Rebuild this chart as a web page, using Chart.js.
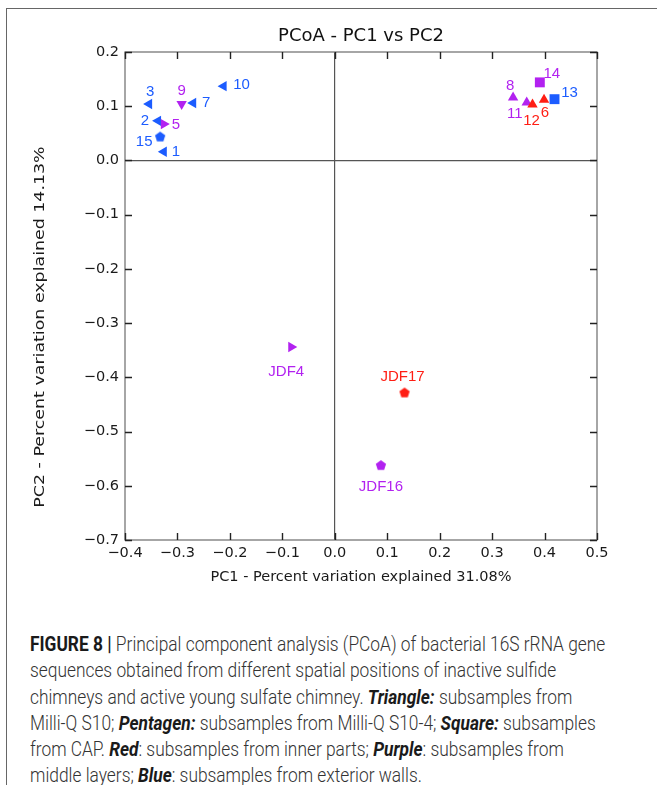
<!DOCTYPE html>
<html>
<head>
<meta charset="utf-8">
<script src="https://cdn.jsdelivr.net/npm/chart.js@4.4.0/dist/chart.umd.min.js"></script>
<style>
  html, body { margin: 0; padding: 0; background: #fff; }
  body { width: 657px; height: 785px; position: relative; overflow: hidden; }
  #frame { position: absolute; left: 6px; top: 8px; right: -4px; bottom: -4px;
           border-left: 1px solid #666; border-top: 1px solid #666; }
  #plot { position: absolute; left: 0; top: 0; }
  #caption { position: absolute; left: 30px; top: 631px; font-family: "Roboto", "Liberation Sans", sans-serif;
             font-size: 20px; font-weight: 300; line-height: 26.3px; color: #333; white-space: nowrap;
             transform: scaleX(0.867); transform-origin: left top; }
  #caption b { color: #1a1a1a; font-weight: 700; }
</style>
</head>
<body>
<div id="frame"></div>
<canvas id="plot" width="657" height="600"></canvas>
<div id="caption">
  <b>FIGURE 8 |</b> Principal component analysis (PCoA) of bacterial 16S rRNA gene<br>
  sequences obtained from different spatial positions of inactive sulfide<br>
  chimneys and active young sulfate chimney. <b><i>Triangle:</i></b> subsamples from<br>
  Milli-Q S10; <b><i>Pentagen:</i></b> subsamples from Milli-Q S10-4; <b><i>Square:</i></b> subsamples<br>
  from CAP. <b><i>Red</i></b>: subsamples from inner parts; <b><i>Purple</i></b>: subsamples from<br>
  middle layers; <b><i>Blue</i></b>: subsamples from exterior walls.
</div>
<script>
// sample names and PCoA coordinates
const sampleNames = ['1', '2', '3', '5', '6', '7', '8', '9', '10', '11', '12', '13', '14', '15', 'JDF4', 'JDF16', 'JDF17'];
const pc1Values = [-0.326, -0.337, -0.354, -0.326, 0.399, -0.270, 0.340, -0.292, -0.212, 0.366, 0.377, 0.419, 0.391, -0.333, -0.083, 0.088, 0.133];
const pc2Values = [0.016, 0.073, 0.104, 0.067, 0.112, 0.106, 0.116, 0.104, 0.137, 0.107, 0.103, 0.113, 0.144, 0.044, -0.344, -0.562, -0.428];
// marker shape / orientation and sample layer
const markers = ['tri-left', 'tri-left', 'tri-left', 'tri-right', 'tri-up', 'tri-left', 'tri-up', 'tri-down', 'tri-left',
                 'tri-up', 'tri-up', 'square', 'square', 'pentagon', 'tri-right', 'pentagon', 'pentagon'];
const layers = ['exterior', 'exterior', 'exterior', 'middle', 'inner', 'exterior', 'middle', 'middle', 'exterior',
                'middle', 'inner', 'exterior', 'middle', 'exterior', 'middle', 'middle', 'inner'];

const yTitle = 'PC2 - Percent variation explained 14.13%';

const layerColors = {
  inner: 'rgb(255, 30, 20)',
  middle: 'rgb(178, 34, 240)',
  exterior: 'rgb(28, 92, 255)'
};

// where each text label sits relative to its marker (px)
const labelOffsets = {
  '1': [12, 0], '2': [-13, 0], '3': [1, -12], '5': [12, 1], '6': [1, 13], '7': [13, 0],
  '8': [-3, -12], '9': [0, -13], '10': [18, -1], '11': [-12, 11], '12': [-1, 16], '13': [15, -6],
  '14': [12, -9], '15': [-16, 5], 'JDF4': [-5, 25], 'JDF16': [0, 22], 'JDF17': [-2, -16]
};

function makePentagon(color) {
  const c = document.createElement('canvas');
  c.width = 12;
  c.height = 12;
  const g = c.getContext('2d');
  g.fillStyle = color;
  g.beginPath();
  for (let k = 0; k < 5; k++) {
    const a = -Math.PI / 2 + k * 2 * Math.PI / 5;
    const px = 6 + Math.cos(a) * 5.4;
    const py = 6.4 + Math.sin(a) * 5.4;
    if (k === 0) g.moveTo(px, py); else g.lineTo(px, py);
  }
  g.closePath();
  g.fill();
  return c;
}

const pentagons = {};
Object.keys(layerColors).forEach(k => { pentagons[k] = makePentagon(layerColors[k]); });

function styleFor(i) {
  const m = markers[i];
  if (m === 'square') return 'rect';
  if (m === 'pentagon') return pentagons[layers[i]];
  return 'triangle';
}
function rotationFor(m) {
  return { 'tri-left': 270, 'tri-right': 90, 'tri-down': 180 }[m] || 0;
}
function radiusFor(m) {
  if (m === 'square') return 7;
  return 6;
}

function fmtTick(v) {
  if (Math.abs(v) < 1e-9) return '0.0';
  return v.toFixed(1).replace('-', '\u2212');
}

// frame, inward ticks, y title and point labels
const decorPlugin = {
  id: 'decor',
  beforeDatasetsDraw(chart) {
    const { ctx, chartArea: a, scales } = chart;
    ctx.save();
    ctx.strokeStyle = '#777';
    ctx.lineWidth = 1.3;
    ctx.strokeRect(a.left, a.top, a.right - a.left, a.bottom - a.top);
    ctx.strokeStyle = '#222';
    ctx.lineWidth = 1.4;
    ctx.beginPath();
    scales.x.ticks.forEach(t => {
      const px = Math.round(scales.x.getPixelForValue(t.value)) + 0.5;
      ctx.moveTo(px, a.bottom); ctx.lineTo(px, a.bottom - 7);
      ctx.moveTo(px, a.top); ctx.lineTo(px, a.top + 7);
    });
    scales.y.ticks.forEach(t => {
      const py = Math.round(scales.y.getPixelForValue(t.value)) + 0.5;
      ctx.moveTo(a.left, py); ctx.lineTo(a.left + 7, py);
      ctx.moveTo(a.right, py); ctx.lineTo(a.right - 7, py);
    });
    ctx.stroke();

    // y axis title (stretched along its length like the original figure)
    ctx.translate(40, 327);
    ctx.rotate(-Math.PI / 2);
    ctx.scale(1.2, 1);
    ctx.font = '14.5px "DejaVu Sans", sans-serif';
    ctx.fillStyle = '#1a1a1a';
    ctx.textAlign = 'center';
    ctx.textBaseline = 'middle';
    ctx.fillText(yTitle, 0, 0);
    ctx.restore();
  },
  afterDatasetsDraw(chart) {
    const { ctx } = chart;
    const meta = chart.getDatasetMeta(0);
    ctx.save();
    ctx.font = '15px "Liberation Sans", Arial, sans-serif';
    ctx.textAlign = 'center';
    ctx.textBaseline = 'middle';
    meta.data.forEach((pt, i) => {
      const name = sampleNames[i];
      const off = labelOffsets[name] || [0, -12];
      ctx.fillStyle = layerColors[layers[i]];
      ctx.fillText(name, pt.x + off[0], pt.y + off[1]);
    });
    ctx.restore();
  }
};

const axisFont = { family: '"DejaVu Sans", sans-serif', size: 14.5 };

new Chart(document.getElementById('plot').getContext('2d'), {
  type: 'scatter',
  data: {
    datasets: [{
      data: pc1Values.map((x, i) => ({ x: x, y: pc2Values[i] })),
      pointStyle: markers.map((m, i) => styleFor(i)),
      rotation: markers.map(m => rotationFor(m)),
      radius: markers.map(m => radiusFor(m)),
      backgroundColor: layers.map(l => layerColors[l]),
      borderColor: layers.map(l => layerColors[l]),
      borderWidth: 0
    }]
  },
  options: {
    responsive: false,
    animation: false,
    layout: { padding: { left: 30, right: 60, top: 0, bottom: 12 } },
    scales: {
      x: {
        type: 'linear',
        min: -0.4,
        max: 0.5,
        afterFit: scale => { scale.height = 48; },
        border: { display: false },
        grid: {
          drawTicks: false,
          lineWidth: 1.2,
          color: ctx => (ctx.tick && Math.abs(ctx.tick.value) < 1e-9 ? '#555' : 'rgba(0,0,0,0)')
        },
        ticks: { stepSize: 0.1, padding: 5, color: '#1a1a1a', font: axisFont, callback: v => fmtTick(v), maxRotation: 0 },
        title: { display: true, text: 'PC1 - Percent variation explained 31.08%', color: '#1a1a1a', font: axisFont,
                 padding: { top: 0, bottom: 2 } }
      },
      y: {
        type: 'linear',
        min: -0.7,
        max: 0.2,
        afterFit: scale => { scale.width = 95; },
        border: { display: false },
        grid: {
          drawTicks: false,
          lineWidth: 1.2,
          color: ctx => (ctx.tick && Math.abs(ctx.tick.value) < 1e-9 ? '#555' : 'rgba(0,0,0,0)')
        },
        ticks: { stepSize: 0.1, padding: 6, color: '#1a1a1a', font: axisFont, callback: v => fmtTick(v) },
        title: { display: false }
      }
    },
    plugins: {
      legend: { display: false },
      tooltip: { enabled: false },
      title: {
        display: true,
        text: 'PCoA - PC1 vs PC2',
        fullSize: false,
        color: '#111',
        font: { family: '"DejaVu Sans", sans-serif', size: 18, weight: 'normal' },
        padding: { top: 26, bottom: 4.4 }
      }
    }
  },
  plugins: [decorPlugin]
});
</script>
</body>
</html>
